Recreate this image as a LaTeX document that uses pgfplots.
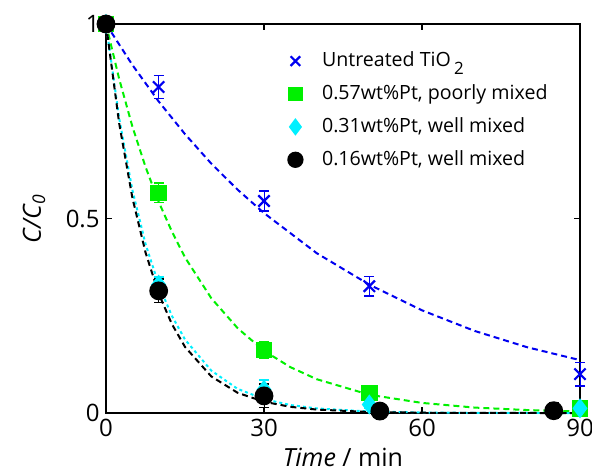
\documentclass[border=0pt]{standalone}
\usepackage{pgfplots}
\pgfplotsset{compat=1.18}
\usepackage{fontspec}
\setmainfont{Open Sans}
\usetikzlibrary{calc}

\definecolor{cblue}{RGB}{0,0,240}
\definecolor{cgreen}{RGB}{0,240,0}
\definecolor{ccyan}{RGB}{0,240,255}

\pgfplotsset{
  lgd/.style={legend image code/.code={%
    \draw[##1, every mark/.append style={scale=0.85}] plot coordinates {(0cm,0cm)};
    \path (-0.2cm,0cm) (0.38cm,0cm);}},
}

\begin{document}
\fontsize{12}{14}\selectfont
\begin{tikzpicture}
\begin{axis}[
  name=ax,
  scale only axis,
  width=237pt, height=194.5pt,
  xmin=0, xmax=90, ymin=0, ymax=1,
  xtick={0,30,60,90}, ytick={0,0.5,1},
  yticklabels={0,0.5,1},
  tick align=inside,
  major tick length=3pt,
  axis line style={line width=1pt},
  tick style={line width=0.8pt, black},
  /pgf/number format/assume math mode=true,
  tick label style={font=\fontsize{12}{14}\selectfont},
  xticklabel style={yshift=1pt},
  yticklabel style={xshift=1pt},
  xlabel={\textit{Time} / min},
  ylabel={\textit{C/C}\textsubscript{\textit{0}}},
  label style={font=\fontsize{12.5}{15}\selectfont},
  xlabel style={yshift=2.5pt},
  ylabel style={yshift=2pt},
  clip=false,
  legend style={draw=none, fill=none, at={(rel axis cs:0.36,0.95)},
    anchor=north west, row sep=3.2pt,
    font=\fontsize{9.8}{11.5}\selectfont},
  legend cell align=left,
  every axis plot/.append style={line width=1pt},
  error bars/y dir=both, error bars/y explicit,
  error bars/error mark options={rotate=90, mark size=2.5pt, line width=0.8pt},
]
% fitted decay curves
\addplot[cblue, dashed, dash pattern=on 3pt off 2pt, forget plot, no marks, error bars/y dir=none]
  coordinates {(0,1)(5,0.895)(10,0.801)(15,0.717)(20,0.641)(25,0.574)(30,0.514)
  (40,0.411)(50,0.330)(60,0.264)(70,0.211)(80,0.169)(90,0.136)};
\addplot[cgreen, dashed, dash pattern=on 3pt off 2pt, forget plot, no marks, error bars/y dir=none]
  coordinates {(0,1)(2.5,0.859)(5,0.737)(7.5,0.633)(10,0.543)(12.5,0.467)(15,0.400)
  (20,0.295)(25,0.218)(30,0.160)(35,0.118)(40,0.087)(50,0.047)(60,0.026)
  (70,0.014)(80,0.0076)(90,0.0041)};
\addplot[ccyan, dash pattern=on 1.5pt off 1.5pt, forget plot, no marks, error bars/y dir=none]
  coordinates {(0,1)(2.5,0.758)(5,0.574)(7.5,0.435)(10,0.330)(12.5,0.250)(15,0.189)
  (20,0.109)(25,0.062)(30,0.036)(35,0.0206)(40,0.0118)(50,0.0039)(60,0.0013)
  (70,0.0004)(90,0)};
\addplot[black, dashed, dash pattern=on 3pt off 2pt, forget plot, no marks, error bars/y dir=none]
  coordinates {(0,1)(2.5,0.745)(5,0.554)(7.5,0.413)(10,0.307)(12.5,0.229)(15,0.170)
  (20,0.094)(25,0.052)(30,0.029)(35,0.016)(40,0.0089)(50,0.0027)(60,0.0008)
  (70,0.0002)(90,0)};

% measured points
\addplot[cblue, only marks, lgd, mark=x, mark size=4pt, mark options={line width=1.1pt}]
  coordinates {(0,1) +- (0,0) (10,0.838) +- (0,0.03) (30,0.545) +- (0,0.025)
  (50,0.326) +- (0,0.025) (90,0.10) +- (0,0.03)};
\addlegendentry{Untreated TiO\,\raisebox{-0.7ex}{\fontsize{8.5}{10}\selectfont 2}}
\addplot[cgreen, only marks, lgd, mark=square*, mark size=3.6pt]
  coordinates {(0,1) +- (0,0) (10,0.566) +- (0,0.025) (30,0.162) +- (0,0.02)
  (50,0.051) +- (0,0.02) (90,0.012) +- (0,0.015)};
\addlegendentry{0.57wt\%Pt, poorly mixed}
\addplot[ccyan, only marks, lgd, mark=diamond*, mark size=4.2pt]
  coordinates {(0,1) +- (0,0) (10,0.33) +- (0,0.02) (30,0.06) +- (0,0.025)
  (50,0.022) +- (0,0.01) (90,0.012) +- (0,0.01)};
\addlegendentry{0.31wt\%Pt, well mixed}
\addplot[black, only marks, lgd, mark=*, mark size=4.2pt]
  coordinates {(0,1) +- (0,0) (10,0.314) +- (0,0.03) (30,0.044) +- (0,0.03)
  (52,0.005) +- (0,0.01) (85,0.006) +- (0,0.02)};
\addlegendentry{0.16wt\%Pt, well mixed}

\coordinate (bl) at (rel axis cs:-0.2236,-0.1568);
\coordinate (tr) at (rel axis cs:1.0253,1.0617);
\end{axis}
\pgfresetboundingbox
\path (bl) rectangle (tr);
\end{tikzpicture}
\end{document}
